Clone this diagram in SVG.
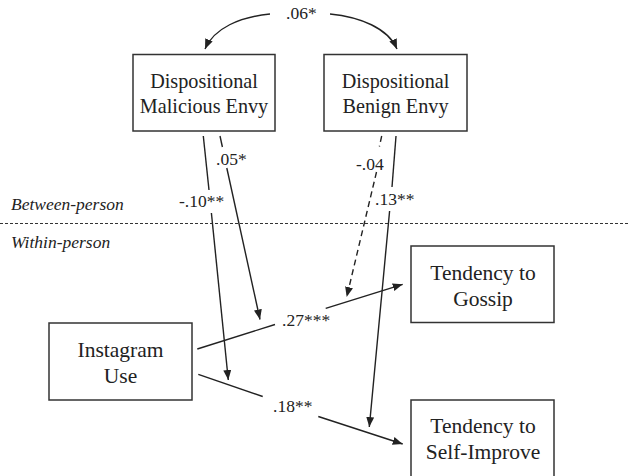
<svg xmlns="http://www.w3.org/2000/svg" width="630" height="476" viewBox="0 0 630 476">
<style>
.box{fill:#fff;stroke:#333;stroke-width:1.5}
.lbl{font-family:"Liberation Serif","Times New Roman",serif;font-size:20.2px;fill:#222;text-anchor:middle}
.lbl2{font-family:"Liberation Serif","Times New Roman",serif;font-size:21.5px;fill:#222;text-anchor:middle}
.coef{font-family:"Liberation Serif","Times New Roman",serif;font-size:17.5px;fill:#222}
.lvl{font-family:"Liberation Serif","Times New Roman",serif;font-size:17.5px;font-style:italic;fill:#222}
.ln{fill:none;stroke:#222;stroke-width:1.4}
.dash{stroke-dasharray:6,4}
</style>
<defs>
<marker id="ah" markerUnits="userSpaceOnUse" markerWidth="12" markerHeight="10" refX="10" refY="4" orient="auto">
<path d="M0,0 L10,4 L0,8 Z" fill="#222"/>
</marker>
</defs>
<rect width="630" height="476" fill="#fff"/>
<line x1="0" y1="223.5" x2="630" y2="223.5" stroke="#333" stroke-width="1" stroke-dasharray="3,2"/>
<text class="lvl" x="11" y="210">Between-person</text>
<text class="lvl" x="11" y="248">Within-person</text>
<g id="dme">
<rect class="box" x="133" y="54.5" width="142" height="76.5"/>
<text class="lbl" x="204" y="88">Dispositional</text>
<text class="lbl" x="204" y="113">Malicious Envy</text>
</g>
<g id="dbe">
<rect class="box" x="324" y="54.5" width="143" height="76.5"/>
<text class="lbl" x="395.5" y="87.5">Dispositional</text>
<text class="lbl" x="395.5" y="113">Benign Envy</text>
</g>
<g id="ig">
<rect class="box" x="49" y="323" width="143" height="77"/>
<text class="lbl2" x="120.5" y="357">Instagram</text>
<text class="lbl2" x="120.5" y="383">Use</text>
</g>
<g id="gossip">
<rect class="box" x="411" y="246" width="143" height="76.5"/>
<text class="lbl2" x="483" y="280">Tendency to</text>
<text class="lbl2" x="483" y="306">Gossip</text>
</g>
<g id="selfimp">
<rect class="box" x="411" y="400" width="143" height="80"/>
<text class="lbl2" x="483" y="433">Tendency to</text>
<text class="lbl2" x="483" y="459">Self-Improve</text>
</g>
<g id="connectors">
<path class="ln" d="M270,14 C240,17 214,28 205,49" marker-end="url(#ah)"/>
<path class="ln" d="M330,14 C360,17 388,28 397,49" marker-end="url(#ah)"/>
<text class="coef" x="286" y="19">.06*</text>
<path class="ln" d="M203.3,136 L209,190"/>
<path class="ln" d="M211.4,213 L228.3,380" marker-end="url(#ah)"/>
<text class="coef" x="179" y="207">-.10**</text>
<path class="ln" d="M220,136 L222.4,147"/>
<path class="ln" d="M226.8,168 L260,319.5" marker-end="url(#ah)"/>
<text class="coef" x="216" y="165">.05*</text>
<path class="ln dash" d="M381.7,136 L379.4,146.5"/>
<path class="ln dash" d="M376.5,172 L346.7,297" marker-end="url(#ah)"/>
<text class="coef" x="356" y="170">-.04</text>
<path class="ln" d="M396,136 L392,187"/>
<path class="ln" d="M389.6,211 L369.3,427" marker-end="url(#ah)"/>
<text class="coef" x="375" y="205">.13**</text>
<path class="ln" d="M197.3,349 L275,324.5"/>
<path class="ln" d="M325.7,308.4 L402.7,284.3" marker-end="url(#ah)"/>
<text class="coef" x="282" y="326">.27***</text>
<path class="ln" d="M198.3,374.3 L262.7,396.5"/>
<path class="ln" d="M318.3,416.5 L402.7,444" marker-end="url(#ah)"/>
<text class="coef" x="273" y="412">.18**</text>
</g>
</svg>
